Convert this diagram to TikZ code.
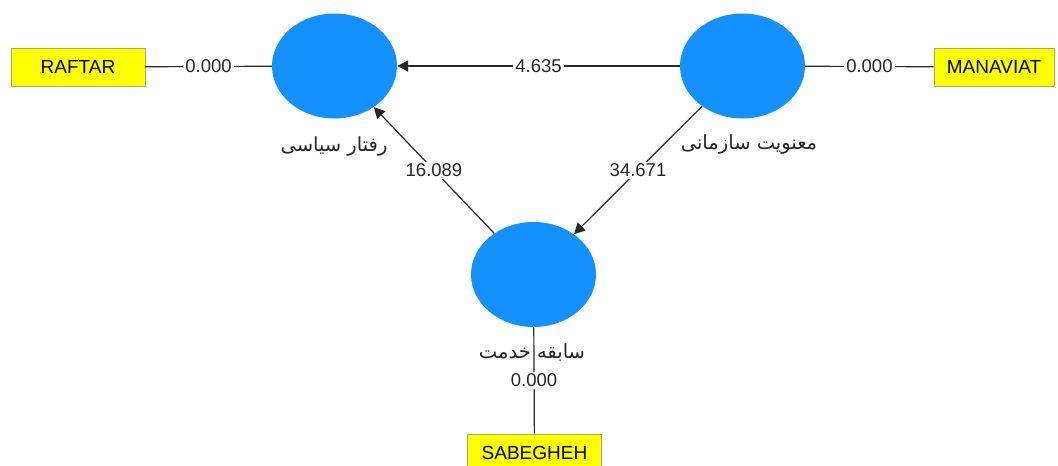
\documentclass[tikz,border=0pt]{standalone}
\usepackage{fontspec}
\setmainfont{Liberation Sans}
\newfontfamily\arabicfont[Script=Arabic]{DejaVu Sans}
\TeXXeTstate=1
\usetikzlibrary{shapes.geometric,arrows.meta}
\definecolor{latblue}{RGB}{20,145,255}
\definecolor{boxyellow}{RGB}{255,255,0}
\definecolor{boxedge}{RGB}{170,170,90}
\definecolor{linegray}{RGB}{40,40,40}
\begin{document}
\begin{tikzpicture}[x=1pt,y=-1pt,
  latent/.style={ellipse,fill=latblue,draw=none,minimum width=125pt,minimum height=105pt,inner sep=0pt},
  indicator/.style={rectangle,fill=boxyellow,draw=boxedge,line width=0.8pt,minimum width=134pt,minimum height=38pt,inner sep=0pt,font=\fontsize{19}{22}\selectfont},
  link/.style={draw=linegray,line width=1.2pt},
  path/.style={link,-{Triangle[length=11pt,width=11pt]}},
  weight/.style={fill=white,inner sep=2pt,font=\fontsize{18.5}{22}\selectfont,text=black!85},
  lvname/.style={font=\fontsize{19.5}{22}\arabicfont,text=black!85}
]
\useasboundingbox (0,0) rectangle (1058,466);
\node[latent] (raftar) at (334.5,66) {};
\node[latent] (manaviat) at (742.5,66) {};
\node[latent] (sabegheh) at (533.5,274.5) {};
\node[indicator] (iraftar) at (78,67) {RAFTAR};
\node[indicator,minimum width=120pt] (imanaviat) at (994,67) {MANAVIAT};
\node[indicator] (isabegheh) at (534.5,453) {SABEGHEH};

\draw[link] (iraftar) -- node[weight] {0.000} (raftar);
\draw[link] (manaviat) -- node[weight] {0.000} (imanaviat);
\draw[link] (sabegheh) -- node[weight] {0.000} (isabegheh);
\draw[path] (manaviat) -- node[weight] {4.635} (raftar);
\draw[path] (sabegheh) -- node[weight] {16.089} (raftar);
\draw[path] (manaviat) -- node[weight] {34.671} (sabegheh);

\node[lvname] (lraftar) at (334,146) {\beginR رفتار سیاسی\endR};
\node[lvname] (lmanaviat) at (749,144) {\beginR معنویت سازمانی\endR};
\node[lvname] (lsabegheh) at (532,353) {\beginR سابقه خدمت\endR};
\end{tikzpicture}
\end{document}
